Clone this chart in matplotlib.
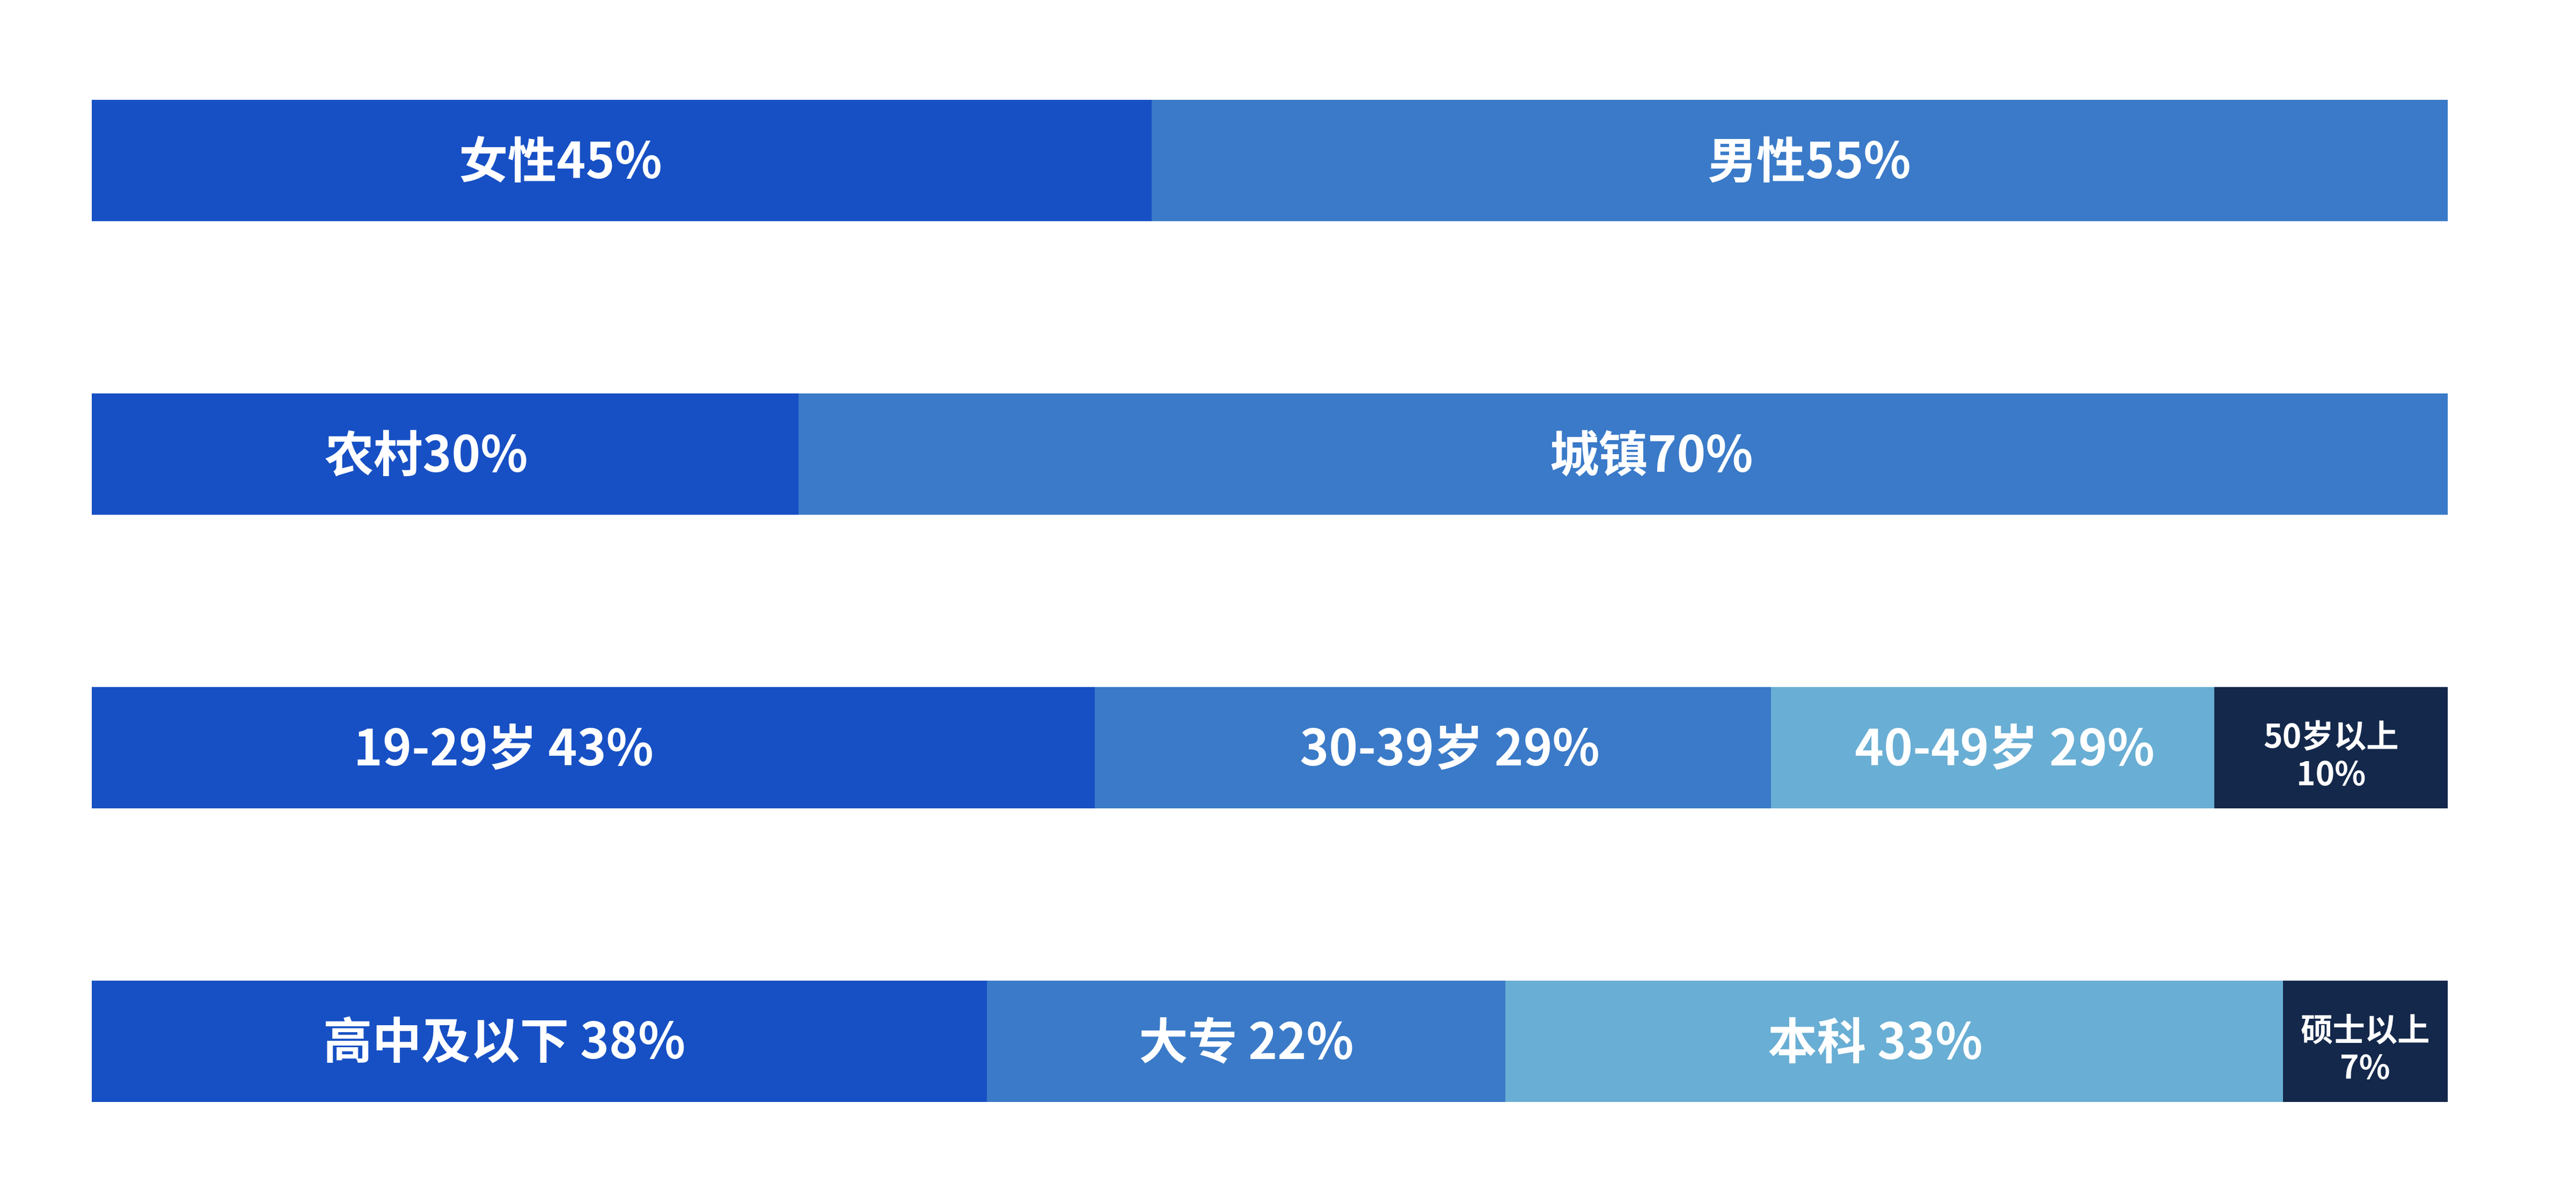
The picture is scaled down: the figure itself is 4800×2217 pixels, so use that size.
import numpy as np
import matplotlib.pyplot as plt

plt.rcParams['font.family'] = ['Noto Sans CJK SC', 'DejaVu Sans']

# one row per bar, values in percent (row 3 labels sum to 101, drawn normalised)
gender_vals = [45, 55]
gender_labels = ['女性45%', '男性55%']
area_vals = [30, 70]
area_labels = ['农村30%', '城镇70%']
age_vals = [43, 29, 19, 10]
age_labels = ['19-29岁 43%', '30-39岁 29%', '40-49岁 29%', '50岁以上\n10%']
edu_vals = [38, 22, 33, 7]
edu_labels = ['高中及以下 38%', '大专 22%', '本科 33%', '硕士以上\n7%']

rows = [gender_vals, area_vals, age_vals, edu_vals]
row_labels = [gender_labels, area_labels, age_labels, edu_labels]

colors = ['#1750C4', '#3A7AC8', '#69AED4', '#14284B']
# small hand nudges of the label centres (fraction of full bar width)
nudges = [[-0.026, 0.004], [-0.008, 0.012], [-0.038, 0.007, 0.005, 0.0],
          [-0.015, 0.0, -0.008, 0.0]]

fig = plt.figure(figsize=(16, 7.39), dpi=300)
ax = fig.add_axes([0.0356, 0.0014, 0.9146, 0.987])

for i, vals in enumerate(rows):
    vals = np.array(vals, dtype=float)
    share = vals / vals.sum()
    left = 0.0
    for j, w in enumerate(share):
        ax.barh(i, w, left=left, height=0.413, color=colors[j], edgecolor='none')
        txt = row_labels[i][j]
        if '\n' in txt:
            ax.text(left + w / 2, i + 0.03, txt, ha='center', va='center',
                    color='white', fontweight='bold', fontsize=14.5,
                    linespacing=1.2)
        else:
            ax.text(left + w / 2 + nudges[i][j], i + 0.01, txt, ha='center',
                    va='center', color='white', fontweight='bold', fontsize=22)
        left += w

ax.set_xlim(0, 1)
ax.set_ylim(3.5, -0.5)
ax.axis('off')

plt.savefig('out.png', dpi=300, facecolor='white')
